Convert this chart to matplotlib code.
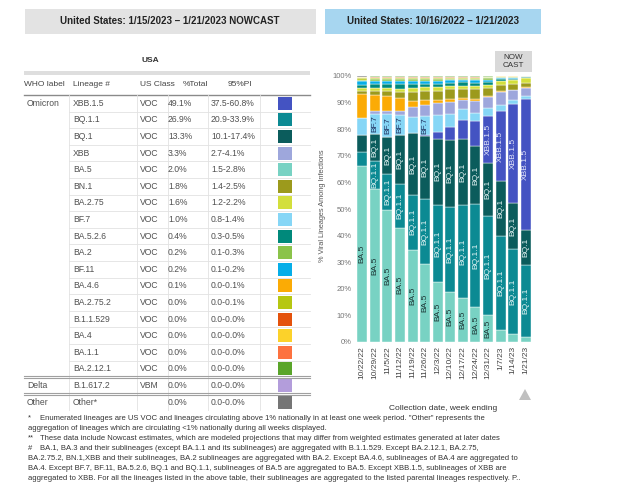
import matplotlib.pyplot as plt
from matplotlib.patches import Rectangle, Polygon
from matplotlib.lines import Line2D

plt.rcParams['font.family'] = ['Liberation Sans', 'DejaVu Sans']

# weeks on the x axis (week ending)
weeks = ["10/22/22", "10/29/22", "11/5/22", "11/12/22", "11/19/22", "11/26/22", "12/3/22",
         "12/10/22", "12/17/22", "12/24/22", "12/31/22", "1/7/23", "1/14/23", "1/21/23"]

# weekly share (%) per lineage; last week = nowcast table
xbb15 = [0.0, 0.0, 0.0, 0.0, 0.0, 0.5, 2.3, 5.0, 7.3, 9.5, 17.6, 26.4, 37.2, 49.1]
bq11 = [5.5, 10.5, 13.3, 16.6, 20.7, 24.6, 29.2, 31.8, 35.2, 39.0, 37.2, 35.6, 31.9, 26.9]
bq1 = [6.5, 10.2, 14.2, 18.3, 23.0, 23.4, 24.9, 25.3, 24.6, 21.5, 20.0, 20.4, 17.3, 13.3]
xbb = [0.2, 0.9, 1.1, 1.5, 3.8, 4.0, 4.4, 4.4, 3.5, 4.6, 4.1, 5.0, 3.8, 3.3]
ba5 = [66.0, 57.5, 49.7, 42.9, 34.7, 29.3, 22.4, 18.8, 16.4, 13.0, 10.0, 4.4, 3.1, 2.0]
bn1 = [1.3, 1.5, 1.7, 2.5, 3.5, 3.4, 3.4, 3.6, 3.4, 3.8, 3.0, 2.4, 2.1, 1.8]
ba275 = [1.0, 1.1, 1.2, 1.2, 1.3, 1.3, 1.3, 1.2, 1.2, 1.2, 1.2, 1.3, 1.4, 1.6]
bf7 = [6.1, 7.7, 8.5, 7.5, 6.3, 7.3, 6.5, 5.0, 4.0, 3.0, 3.3, 2.3, 1.5, 1.0]
ba526 = [1.4, 1.5, 1.5, 1.6, 1.6, 1.4, 1.4, 1.3, 1.2, 1.3, 1.0, 0.7, 0.6, 0.4]
ba2 = [0.6, 0.6, 0.6, 0.6, 0.6, 0.6, 0.6, 0.5, 0.5, 0.5, 0.5, 0.3, 0.3, 0.2]
bf11 = [1.2, 1.2, 1.2, 1.3, 1.2, 1.1, 1.1, 1.0, 0.9, 1.0, 0.8, 0.5, 0.3, 0.2]
ba46 = [8.8, 6.1, 5.8, 4.8, 2.1, 1.9, 1.3, 1.1, 0.8, 0.6, 0.4, 0.2, 0.1, 0.1]
ba2752 = [0.5, 0.5, 0.5, 0.5, 0.5, 0.5, 0.5, 0.4, 0.4, 0.4, 0.4, 0.2, 0.1, 0.0]
b11529 = [0.2, 0.2, 0.2, 0.2, 0.2, 0.2, 0.2, 0.2, 0.2, 0.2, 0.1, 0.1, 0.1, 0.0]
ba4 = [0.2, 0.2, 0.2, 0.2, 0.2, 0.2, 0.2, 0.1, 0.1, 0.1, 0.1, 0.05, 0.05, 0.0]
ba11 = [0.1, 0.1, 0.1, 0.1, 0.1, 0.1, 0.1, 0.1, 0.1, 0.1, 0.1, 0.05, 0.05, 0.0]
ba2121 = [0.2, 0.1, 0.1, 0.1, 0.1, 0.1, 0.1, 0.1, 0.1, 0.1, 0.1, 0.05, 0.05, 0.0]
delta = [0.0, 0.0, 0.0, 0.0, 0.0, 0.0, 0.0, 0.0, 0.0, 0.0, 0.0, 0.0, 0.0, 0.0]
other = [0.2, 0.1, 0.1, 0.1, 0.1, 0.1, 0.1, 0.1, 0.1, 0.1, 0.1, 0.05, 0.05, 0.0]

# table (same order as in the picture)
lineages = ["XBB.1.5", "BQ.1.1", "BQ.1", "XBB", "BA.5", "BN.1", "BA.2.75", "BF.7", "BA.5.2.6",
            "BA.2", "BF.11", "BA.4.6", "BA.2.75.2", "B.1.1.529", "BA.4", "BA.1.1", "BA.2.12.1",
            "B.1.617.2", "Other*"]
series = [xbb15, bq11, bq1, xbb, ba5, bn1, ba275, bf7, ba526, ba2, bf11, ba46, ba2752,
          b11529, ba4, ba11, ba2121, delta, other]
who_labels = ["Omicron"] + [""] * 16 + ["Delta", "Other"]
us_class = ["VOC"] * 17 + ["VBM", ""]
pi_95 = ["37.5-60.8%", "20.9-33.9%", "10.1-17.4%", "2.7-4.1%", "1.5-2.8%", "1.4-2.5%",
         "1.2-2.2%", "0.8-1.4%", "0.3-0.5%", "0.1-0.3%", "0.1-0.2%", "0.0-0.1%", "0.0-0.1%",
         "0.0-0.0%", "0.0-0.0%", "0.0-0.0%", "0.0-0.0%", "0.0-0.0%", "0.0-0.0%"]
colors = ["#4453c2", "#0c8a93", "#0b5c5c", "#9ea7dc", "#78d2c3", "#9c9a1c", "#d3df3c",
          "#86d6f6", "#00897b", "#8bc34a", "#06aee8", "#fbab05", "#b6c712", "#e4520c",
          "#fcd22a", "#fd7240", "#5aa52a", "#b39ddb", "#757575"]

# stacking order from the bottom of each bar
stack_order = ["BA.5", "BQ.1.1", "BQ.1", "XBB.1.5", "BF.7", "XBB", "BA.4.6", "BN.1", "BA.2.75",
               "BA.5.2.6", "BF.11", "BA.2", "BA.2.75.2", "B.1.1.529", "BA.4", "BA.1.1",
               "BA.2.12.1", "B.1.617.2", "Other*"]
bar_labels = {"BA.5": "#1c3434", "BQ.1.1": "#e8f6f6", "BQ.1": "#e8f6f6",
              "BF.7": "#1d2d5c", "XBB.1.5": "#e6e8fa"}

footnotes = [
    ("*", 'Enumerated lineages are US VOC and lineages circulating above 1% nationally in at least one week period. "Other" represents the'),
    ("", "aggregation of lineages which are circulating <1% nationally during all weeks displayed."),
    ("**", "These data include Nowcast estimates, which are modeled projections that may differ from weighted estimates generated at later dates"),
    ("#", "BA.1, BA.3 and their sublineages (except BA.1.1 and its sublineages) are aggregated with B.1.1.529. Except BA.2.12.1, BA.2.75,"),
    ("", "BA.2.75.2, BN.1,XBB and their sublineages, BA.2 sublineages are aggregated with BA.2. Except BA.4.6, sublineages of BA.4 are aggregated to"),
    ("", "BA.4. Except BF.7, BF.11, BA.5.2.6, BQ.1 and BQ.1.1, sublineages of BA.5 are aggregated to BA.5. Except XBB.1.5, sublineages of XBB are"),
    ("", "aggregated to XBB. For all the lineages listed in the above table, their sublineages are aggregated to the listed parental lineages respectively. P.."),
]

W, H = 640, 488


def fx(x):
    return x / W


def fy(y):
    return 1 - y / H


def box(x0, y0, x1, y1, color):
    fig.add_artist(Rectangle((fx(x0), fy(y1)), (x1 - x0) / W, (y1 - y0) / H,
                             transform=fig.transFigure, facecolor=color, edgecolor='none'))


def line(x0, y0, x1, y1, color, lw):
    fig.add_artist(Line2D([fx(x0), fx(x1)], [fy(y0), fy(y1)], transform=fig.transFigure,
                          color=color, lw=lw))


def text(x, y, s, **kw):
    fig.text(fx(x), fy(y), s, **kw)


fig = plt.figure(figsize=(6.4, 4.88), dpi=100)

# header boxes
box(25, 9, 316, 34, "#e3e3e3")
text(170, 21.5, "United States: 1/15/2023 \u2013 1/21/2023 NOWCAST", ha='center', va='center',
     fontsize=7, fontweight='bold', color='#222222')
box(325, 9, 541, 34, "#a7d6f0")
text(433, 21.5, "United States: 10/16/2022 \u2013 1/21/2023", ha='center', va='center',
     fontsize=7, fontweight='bold', color='#222222')

# table
text(150, 60, "USA", ha='center', va='center', fontsize=6, fontweight='bold', color='#333333')
box(24, 70.5, 310, 74.5, "#dedede")
for hx, h in zip([24, 73, 140, 183, 228], ["WHO label", "Lineage #", "US Class", "%Total", "95%PI"]):
    text(hx, 85, h, ha='left', va='center', fontsize=6, color='#444444')
line(24, 95, 310, 95, "#8a8a8a", 1.0)

row0, step = 103.3, 16.6
nrows = len(lineages)
for vx in [69, 137, 168, 208, 260]:
    line(vx, 95, vx, row0 + step * (nrows - 0.5), "#e2e2e2", 0.6)
for i in range(nrows - 1):
    yb = row0 + step * (i + 0.5)
    if who_labels[i + 1]:
        line(24, yb - 0.8, 310, yb - 0.8, "#a0a0a0", 0.8)
        line(24, yb + 0.8, 310, yb + 0.8, "#a0a0a0", 0.8)
    else:
        line(69, yb, 310, yb, "#e2e2e2", 0.6)

for i in range(nrows):
    yc = row0 + step * i
    tc = '#505050'
    text(27, yc, who_labels[i], ha='left', va='center', fontsize=6.2, color=tc)
    text(73, yc, lineages[i], ha='left', va='center', fontsize=6.2, color=tc)
    text(140, yc, us_class[i], ha='left', va='center', fontsize=6.2, color=tc)
    text(168, yc, f"{series[i][-1]:.1f}%", ha='left', va='center', fontsize=6.2, color=tc)
    text(211, yc, pi_95[i], ha='left', va='center', fontsize=6.2, color=tc)
    box(278, yc - 6.5, 292, yc + 6.5, colors[i])

# stacked bar chart
ax = fig.add_axes([fx(356), fy(342), (532 - 356) / W, (342 - 76) / H])
xs = list(range(len(weeks)))
bottom = [0.0] * len(weeks)
for name in stack_order:
    k = lineages.index(name)
    vals = series[k]
    ax.bar(xs, vals, bottom=bottom, width=0.8, color=colors[k], edgecolor='white', linewidth=0.3)
    if name in bar_labels:
        need = 1.5 * len(name) + 1
        for i, v in enumerate(vals):
            if v >= need:
                ax.text(xs[i], bottom[i] + v / 2, name, rotation=90, ha='center', va='center',
                        fontsize=6, color=bar_labels[name])
    bottom = [b + v for b, v in zip(bottom, vals)]

ax.set_xlim(-0.5, len(weeks) - 0.5)
ax.set_ylim(0, 100)
ax.set_yticks(range(0, 101, 10))
ax.set_yticklabels([f"{t}%" for t in range(0, 101, 10)], fontsize=5.5, color='#777777')
ax.set_xticks(xs)
ax.set_xticklabels(weeks, rotation=90, fontsize=6, color='#444444')
ax.tick_params(length=0, pad=3)
for s in ax.spines.values():
    s.set_visible(False)

text(322, 206, "% Viral Lineages Among Infections", rotation=90, ha='center', va='center',
     fontsize=5.3, color='#555555')
text(443, 408, "Collection date, week ending", ha='center', va='center', fontsize=6,
     color='#333333')

# nowcast marker
box(495, 51, 532, 72, "#d9d9d9")
text(513.5, 61.5, "NOW\nCAST", ha='center', va='center', fontsize=5.8, color='#333333',
     linespacing=1.1)
fig.add_artist(Polygon([(fx(519), fy(400)), (fx(531), fy(400)), (fx(525), fy(389))],
                       closed=True, transform=fig.transFigure, facecolor='#c0c0c0',
                       edgecolor='none'))

# footnotes
for j, (mark, note) in enumerate(footnotes):
    yy = 418 + 10.1 * j
    if mark:
        text(28, yy, mark, ha='left', va='center', fontsize=5.5, color='#333333')
        text(40, yy, note, ha='left', va='center', fontsize=5.5, color='#333333')
    else:
        text(28, yy, note, ha='left', va='center', fontsize=5.5, color='#333333')

fig.savefig("out.png", dpi=100)
